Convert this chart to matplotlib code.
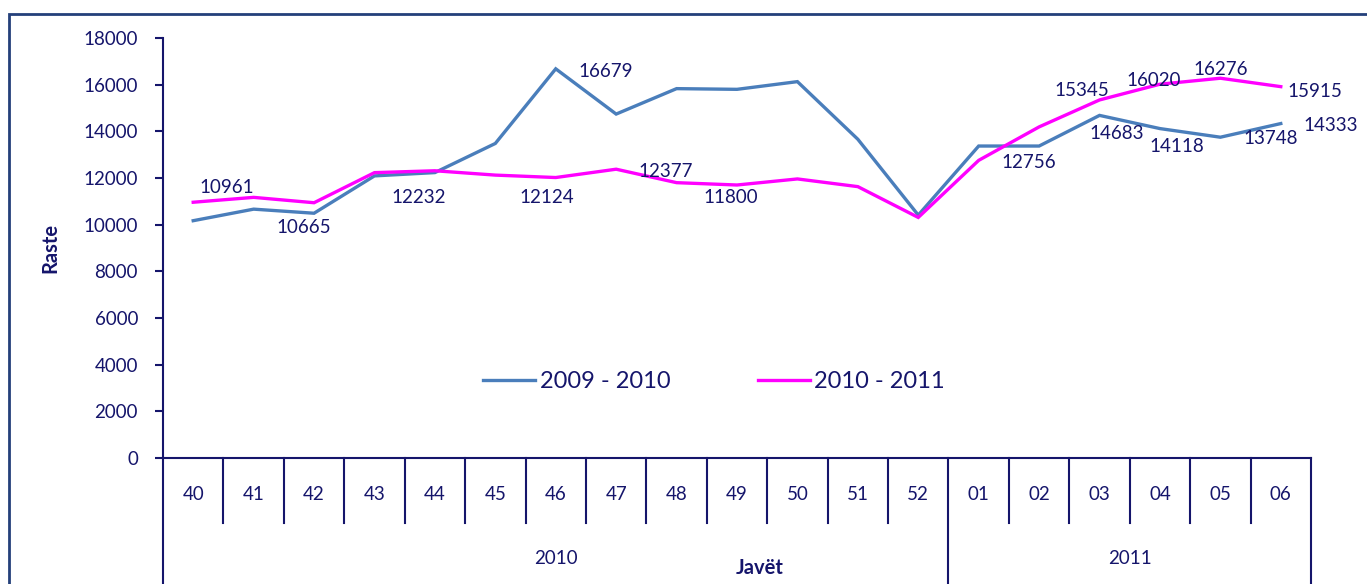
import matplotlib.pyplot as plt
from matplotlib.patches import Rectangle
from matplotlib.lines import Line2D

# weeks of the season and the two series
weeks = ['40', '41', '42', '43', '44', '45', '46', '47', '48', '49',
         '50', '51', '52', '01', '02', '03', '04', '05', '06']
years = ['2010', '2011']
year_spans = [(0, 12), (13, 18)]
cases_0910 = [10170, 10665, 10490, 12090, 12232, 13480, 16679, 14740, 15830, 15800,
              16130, 13660, 10410, 13370, 13370, 14683, 14118, 13748, 14333]
cases_1011 = [10961, 11170, 10940, 12230, 12310, 12124, 12020, 12377, 11800, 11700,
              11960, 11630, 10310, 12756, 14190, 15345, 16020, 16276, 15915]
labels_0910 = [1, 4, 6, 15, 16, 17, 18]
labels_1011 = [0, 5, 7, 8, 13, 15, 16, 17, 18]

NAVY = '#15156b'
BLUE = '#4a7ebb'
PINK = '#ff00ff'
FS = 13.5

plt.rcParams['font.family'] = ['Lato', 'DejaVu Sans']

fig = plt.figure(figsize=(13.67, 5.84), dpi=100)
ax = fig.add_axes([163 / 1367, 1 - 458 / 584, 1148 / 1367, 420 / 584])

x = list(range(len(weeks)))
ax.plot(x, cases_0910, color=BLUE, lw=2.4, label='2009 - 2010', solid_joinstyle='miter')
ax.plot(x, cases_1011, color=PINK, lw=2.4, label='2010 - 2011', solid_joinstyle='miter')

# data labels, offsets in pixels (right, down)
off_0910 = {1: (50, 18), 4: (-16, 25), 6: (50, 3), 15: (17, 18),
            16: (17, 18), 17: (50, 1), 18: (50, 2)}
off_1011 = {0: (34, -15), 5: (51, 22), 7: (50, 2), 8: (54, 15), 13: (50, 2),
            15: (-18, -9), 16: (-6, -4), 17: (0, -9), 18: (34, 5)}
for series, idxs, offs in [(cases_0910, labels_0910, off_0910),
                           (cases_1011, labels_1011, off_1011)]:
    for i in idxs:
        dx, dy = offs[i]
        ax.annotate(str(series[i]), (i, series[i]), xytext=(dx, -dy),
                    textcoords='offset pixels', ha='center', va='center',
                    fontsize=FS, color=NAVY)

ax.set_xlim(-0.5, len(weeks) - 0.5)
ax.set_ylim(0, 18000)
ax.set_yticks(range(0, 18001, 2000))
ax.tick_params(axis='y', colors=NAVY, labelsize=FS, length=6, width=1.5, pad=12)
ax.tick_params(axis='x', length=0, labelbottom=False)
for s in ['top', 'right']:
    ax.spines[s].set_visible(False)
for s in ['left', 'bottom']:
    ax.spines[s].set_color(NAVY)
    ax.spines[s].set_linewidth(1.5)

# category axis: weeks row and years row
trans = ax.get_xaxis_transform()
for i, w in enumerate(weeks):
    ax.text(i, -0.088, w, transform=trans, ha='center', va='center',
            fontsize=FS, color=NAVY)
edges = [k - 0.5 for k in range(len(weeks) + 1)]
long_edges = [year_spans[0][0] - 0.5, year_spans[1][0] - 0.5, year_spans[1][1] + 0.5]
for e in edges:
    bottom = -0.35 if e in long_edges else -0.155
    ax.add_line(Line2D([e, e], [0, bottom], transform=trans, color=NAVY,
                       lw=1.5, clip_on=False))
for yr, (a, b) in zip(years, year_spans):
    ax.text((a + b) / 2, -0.24, yr, transform=trans, ha='center', va='center',
            fontsize=FS, color=NAVY)

ax.set_ylabel('Raste', fontsize=14.5, fontweight='bold', color=NAVY)
ax.yaxis.set_label_coords(-0.089, 0.5)
fig.text(760 / 1367, 1 - 568 / 584, 'Javët', fontsize=14.5, fontweight='bold',
         color=NAVY, ha='center', va='center')

leg = ax.legend(loc='center', bbox_to_anchor=(0.48, 0.181), ncol=2, frameon=False,
                fontsize=17, handlelength=2.2, handletextpad=0.2, columnspacing=3.7)
for t in leg.get_texts():
    t.set_color(NAVY)

# outer chart frame
fig.patches.append(Rectangle((9 / 1367, -0.05), 1.2, 1 - 14 / 584 + 0.05,
                             transform=fig.transFigure, fill=False,
                             edgecolor='#24407a', lw=2))

fig.savefig('out.png', dpi=100)
